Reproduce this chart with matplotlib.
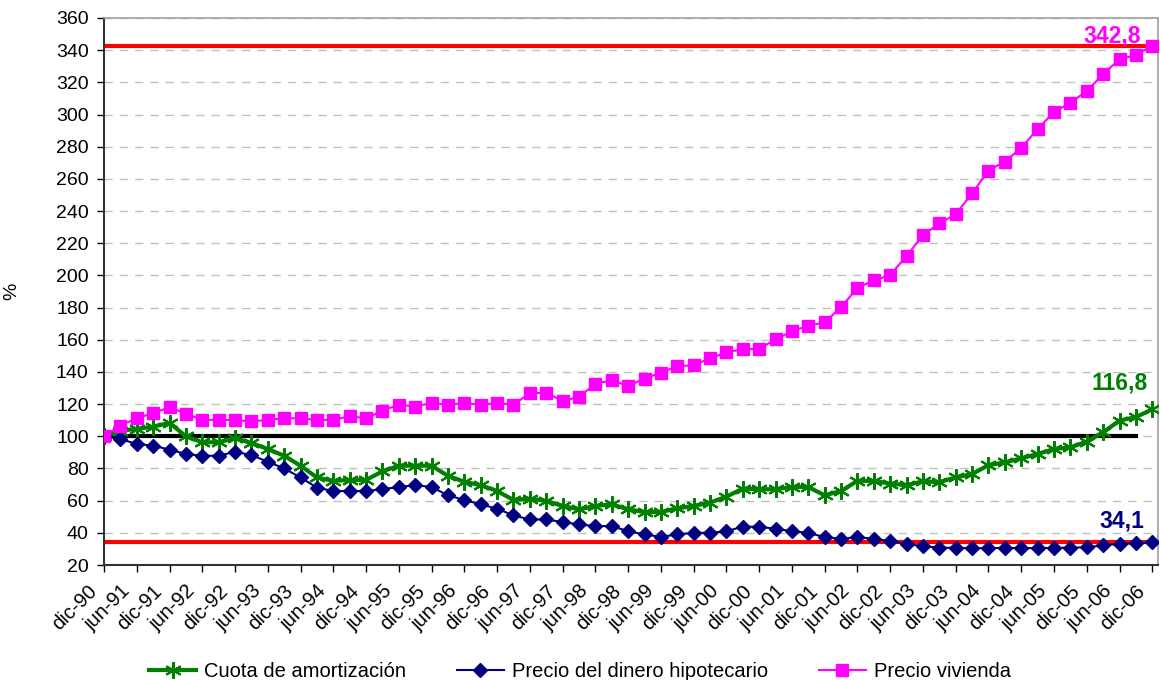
import matplotlib
matplotlib.use("Agg")
import matplotlib.pyplot as plt
import matplotlib.transforms as mtransforms
import numpy as np

plt.rcParams['font.family'] = ['Liberation Sans', 'DejaVu Sans']

tick_labels = ["dic-90", "jun-91", "dic-91", "jun-92", "dic-92", "jun-93", "dic-93", "jun-94",
               "dic-94", "jun-95", "dic-95", "jun-96", "dic-96", "jun-97", "dic-97", "jun-98",
               "dic-98", "jun-99", "dic-99", "jun-00", "dic-00", "jun-01", "dic-01", "jun-02",
               "dic-02", "jun-03", "dic-03", "jun-04", "dic-04", "jun-05", "dic-05", "jun-06", "dic-06"]

cuota = [100, 103.5, 104.6, 106.0, 108.3, 100.0, 96.3, 96.3, 98.8, 95.8, 92.1, 87.9, 81.7, 74.4,
         72.3, 72.9, 72.9, 78.2, 81.7, 81.7, 81.7, 75.4, 71.7, 69.6, 66.0, 60.4, 61.3, 59.8, 56.7,
         54.6, 56.7, 57.7, 54.6, 52.9, 52.9, 55.3, 56.7, 58.8, 62.5, 67.5, 67.1, 67.1, 68.5, 68.5,
         63.3, 66.0, 72.3, 72.3, 70.6, 69.6, 72.0, 71.5, 74.4, 76.5, 82.1, 83.8, 86.3, 89.0, 92.1,
         93.1, 96.7, 102.5, 109.8, 111.9, 116.8]

dinero = [100, 98.3, 95.2, 94.2, 91.7, 89.0, 87.9, 87.9, 90.4, 88.3, 84.2, 80.0, 74.4, 68.1,
          66.0, 66.0, 66.0, 67.1, 68.5, 69.6, 68.5, 63.3, 60.4, 57.7, 55.0, 50.8, 48.3, 48.3, 46.7,
          45.2, 44.2, 44.2, 41.0, 39.0, 37.5, 39.0, 40.0, 40.0, 41.0, 43.8, 43.8, 42.5, 41.0, 40.0,
          37.3, 36.3, 37.3, 36.3, 34.8, 33.1, 31.7, 30.8, 30.6, 30.5, 30.5, 30.6, 30.5, 30.5, 30.6,
          30.8, 31.0, 32.2, 33.2, 33.4, 34.1]

vivienda = [100, 106.7, 111.2, 114.4, 118.1, 114.0, 110.2, 110.2, 110.2, 109.2, 110.2, 111.2, 111.2,
            110.2, 110.2, 112.5, 111.2, 116.0, 119.6, 118.5, 120.8, 119.6, 120.8, 119.6, 120.8, 119.6,
            126.9, 126.9, 122.1, 124.4, 132.7, 134.8, 131.3, 135.8, 139.6, 143.5, 144.2, 148.5, 152.1,
            154.2, 154.2, 160.4, 165.2, 168.8, 170.8, 180.2, 192.3, 196.9, 200.2, 212.1, 225.0, 232.3,
            238.1, 251.0, 265.2, 270.8, 279.2, 291.0, 301.5, 307.3, 314.6, 325.0, 334.4, 336.9, 342.8]

base_level = 100
max_label = "342,8"
cuota_label = "116,8"
min_label = "34,1"

n = len(vivienda)
x = np.arange(n)

fig = plt.figure(figsize=(11.6, 6.8), dpi=100)
ax = fig.add_axes([104/1160, 1-565/680, (1158-104)/1160, (565-18)/680])

ax.set_ylim(20, 360)
ax.set_xlim(0, n - 1 + 0.35)
ax.set_yticks(np.arange(20, 361, 20))
ax.yaxis.grid(True, color='#c0c0c0', linestyle=(0, (6, 5)), linewidth=1)
ax.set_axisbelow(True)

# reference lines
ax.axhline(vivienda[-1], color='#ff0000', lw=3, zorder=2)
ax.axhline(dinero[-1], color='#ff0000', lw=3, zorder=2)
ax.plot([0, n - 2], [base_level, base_level], color='black', lw=3, zorder=2)

ax.plot(x, cuota, color='#008000', lw=3, marker=(6, 2, 0), markersize=12,
        markeredgewidth=1.5, markeredgecolor='#008000', label='Cuota de amortización', zorder=4)
ax.plot(x, dinero, color='#000080', lw=1.5, marker='D', markersize=7.5,
        label='Precio del dinero hipotecario', zorder=5)
ax.plot(x, vivienda, color='#ff00ff', lw=1.5, marker='s', markersize=8.5,
        label='Precio vivienda', zorder=5)

ax.text(n - 1.7, vivienda[-1] + 1.7, max_label, color='#ff00ff', fontsize=16.5, fontweight='bold',
        ha='right', va='baseline')
ax.text(n - 1.3, 129, cuota_label, color='#008000', fontsize=16.5, fontweight='bold',
        ha='right', va='baseline')
ax.text(n - 1.5, 43.5, min_label, color='#000080', fontsize=16.5, fontweight='bold',
        ha='right', va='baseline')

tick_pos = np.arange(0, n, 2)
ax.set_xticks(tick_pos)
ax.set_xticklabels([''] * len(tick_pos))
lbl_trans = mtransforms.blended_transform_factory(ax.transData, ax.transAxes) + \
    mtransforms.ScaledTranslation(-10/100, -23/100, fig.dpi_scale_trans)
for pos, lab in zip(tick_pos, tick_labels):
    ax.text(pos, 0, lab, transform=lbl_trans, rotation=45, ha='right', va='center',
            rotation_mode='anchor', fontsize=14.5, clip_on=False)

ax.tick_params(axis='x', length=5, width=1, pad=2)
ax.tick_params(axis='y', length=5, width=1, labelsize=14, pad=6)
ax.set_ylabel('%', fontsize=14)
ax.yaxis.set_label_coords(-84/1054, 0.5)

for s in ['left', 'bottom']:
    ax.spines[s].set_color('#333333')
    ax.spines[s].set_linewidth(1.5)
for s in ['top', 'right']:
    ax.spines[s].set_color('#a0a0a0')
    ax.spines[s].set_linewidth(1.2)

leg = fig.legend(loc='lower center', bbox_to_anchor=(0.5, -0.028), ncol=3, frameon=False,
                 fontsize=14.5, handlelength=2.35, columnspacing=2.5, handletextpad=0.4)

fig.savefig('out.png', dpi=100)
